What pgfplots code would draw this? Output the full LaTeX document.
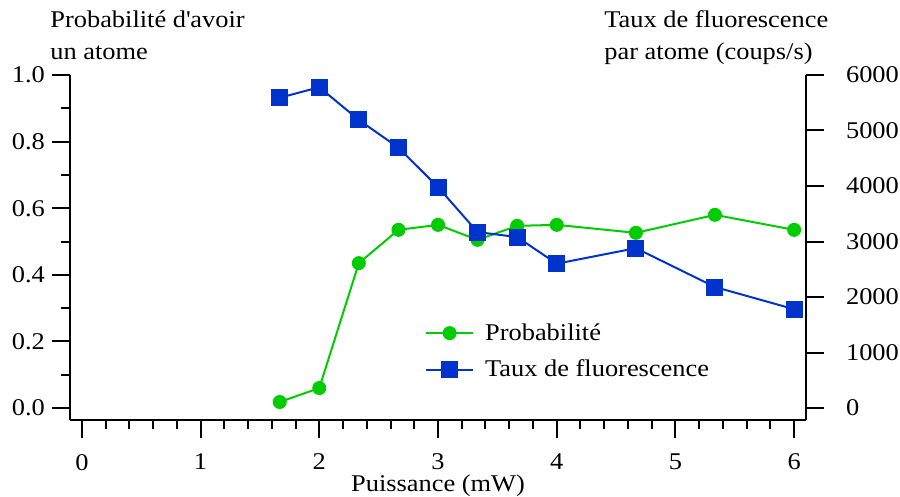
\documentclass[border=0pt]{standalone}
\usepackage{pgfplots}
\pgfplotsset{compat=1.18}
\usepackage{fontspec}
\setmainfont{Liberation Serif}[FakeStretch=1.1]
\definecolor{probgreen}{RGB}{0,204,0}
\definecolor{tauxblue}{RGB}{0,51,204}

\pgfplotsset{
  twin/.style={
    scale only axis, width=368pt, height=172.5pt,
    xmin=-0.1, xmax=6.1,
    font=\fontsize{12}{16}\selectfont,
    /pgf/number format/assume math mode=true,
    tick align=outside,
    major tick length=9pt, minor tick length=4.5pt,
    tick style={line width=1pt, black},
    axis line style={line width=1pt, -},
    clip=false,
  },
  probstyle/.style={probgreen, line width=1pt, mark=*, mark size=3pt, mark options={solid}},
  tauxstyle/.style={tauxblue, line width=1pt, mark=square*, mark size=3.75pt, mark options={solid}},
}

\begin{document}
\begin{tikzpicture}
\begin{axis}[twin, name=ax,
  ymin=-0.036, ymax=1.0,
  axis x line*=bottom, axis y line*=left,
  xtick={0,1,2,3,4,5,6}, minor x tick num=4,
  xticklabel style={yshift=-4.5pt},
  ytick={0,0.2,0.4,0.6,0.8,1.0}, minor y tick num=1,
  yticklabel style={/pgf/number format/fixed, /pgf/number format/fixed zerofill,
    /pgf/number format/precision=1},
  xlabel={Puissance (mW)},
  xlabel style={at={(rel axis cs:0.5,0)}, anchor=center, yshift=-33pt},
  ylabel={Probabilité d\textquotesingle avoir\\un atome},
  ylabel style={rotate=-90, at={(rel axis cs:0,1)}, anchor=south west, align=left,
    inner sep=0pt, xshift=-10pt, yshift=7.5pt},
]
\addplot[probstyle] coordinates {
  (1.667,0.018) (2,0.06) (2.333,0.435) (2.667,0.535) (3,0.55) (3.333,0.505)
  (3.667,0.547) (4,0.55) (4.667,0.526) (5.333,0.58) (6,0.535)
};
\end{axis}
\begin{axis}[twin,
  ymin=-216, ymax=6000,
  axis x line=none, axis y line*=right,
  ytick={0,1000,2000,3000,4000,5000,6000},
  scaled y ticks=false,
  yticklabel style={/pgf/number format/1000 sep={}, xshift=7.5pt},
  ylabel={Taux de fluorescence\\par atome (coups/s)},
  ylabel style={rotate=-90, at={(rel axis cs:1,1)}, anchor=south west, align=left,
    inner sep=0pt, xshift=-101pt, yshift=4.9pt},
  legend style={draw=none, fill=none, at={(0.482,0.293)}, anchor=north west,
    inner sep=0pt, row sep=4.5pt, font=\fontsize{12}{16}\selectfont,
    /tikz/every odd column/.append style={column sep=3.5pt}},
  legend cell align=left,
  legend image code/.code={\draw[mark repeat=2, mark phase=2]
    plot coordinates {(0pt,0pt) (11.75pt,0pt) (23.5pt,0pt)};},
]
\addlegendimage{probstyle}
\addlegendentry{Probabilité}
\addplot[tauxstyle] coordinates {
  (1.667,5590) (2,5780) (2.333,5190) (2.667,4690) (3,3980) (3.333,3170)
  (3.667,3080) (4,2600) (4.667,2880) (5.333,2180) (6,1780)
};
\addlegendentry{Taux de fluorescence}
\end{axis}
\pgfresetboundingbox
\path[use as bounding box] ([xshift=-35pt,yshift=-38pt]ax.south west)
  rectangle ([xshift=47pt,yshift=37.5pt]ax.north east);
\end{tikzpicture}
\end{document}
